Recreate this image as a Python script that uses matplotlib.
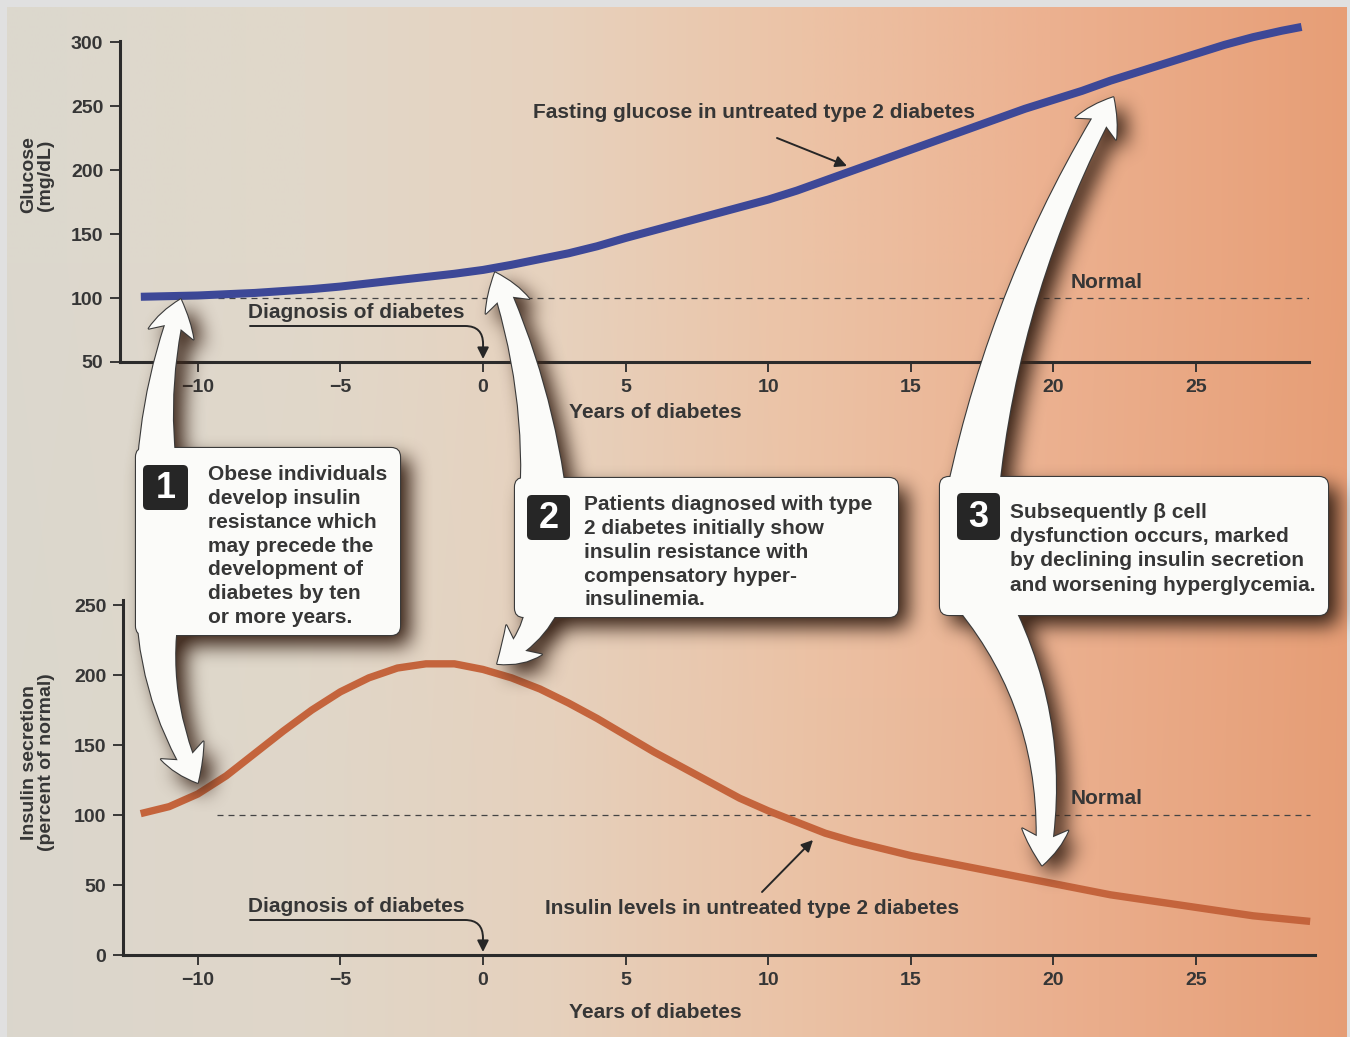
import numpy as np
import matplotlib
matplotlib.use("Agg")
import matplotlib.pyplot as plt
from matplotlib.figure import Figure
from matplotlib.backends.backend_agg import FigureCanvasAgg
from matplotlib.patches import FancyBboxPatch, FancyArrowPatch, ArrowStyle

# ---------------- data ----------------
glucose_years = [-12, -11, -10, -9, -8, -7, -6, -5, -4, -3, -2, -1, 0, 1, 2, 3, 4, 5, 6, 7,
                 8, 9, 10, 11, 12, 13, 14, 15, 16, 17, 18, 19, 20, 21, 22, 23, 24, 25,
                 26, 27, 28, 28.7]
glucose_mgdl = [101, 101.5, 102, 103, 104, 105.5, 107, 109, 111.5, 114, 116.5, 119, 122,
                126, 130.5, 135, 140.5, 147, 153, 159, 165, 171, 177, 184, 192, 200,
                208, 216, 224, 232, 240, 248, 255, 262, 270, 277, 284, 291, 298, 304,
                309, 312]

insulin_years = [-12, -11, -10, -9, -8, -7, -6, -5, -4, -3, -2, -1, 0, 1, 2, 3, 4, 5, 6,
                 7, 8, 9, 10, 11, 12, 13, 14, 15, 16, 17, 18, 19, 20, 21, 22, 23, 24,
                 25, 26, 27, 28, 29]
insulin_pct = [101, 106, 115, 128, 144, 160, 175, 188, 198, 205, 208, 208, 204, 198, 190,
               180, 169, 157, 145, 134, 123, 112, 103, 95, 87, 81, 76, 71, 67, 63, 59,
               55, 51, 47, 43, 40, 37, 34, 31, 28, 26, 24]

normal_level = 100
x_ticks = [-10, -5, 0, 5, 10, 15, 20, 25]
glucose_ticks = [50, 100, 150, 200, 250, 300]
insulin_ticks = [0, 50, 100, 150, 200, 250]

step1_text = ["Obese individuals", "develop insulin", "resistance which", "may precede the",
              "development of", "diabetes by ten", "or more years."]
step2_text = ["Patients diagnosed with type", "2 diabetes initially show",
              "insulin resistance with", "compensatory hyper-", "insulinemia."]
step3_text = ["Subsequently \u03b2 cell", "dysfunction occurs, marked",
              "by declining insulin secretion", "and worsening hyperglycemia."]

# ---------------- style ----------------
W, H = 1350, 1037
TXT = '#363636'
AXC = '#2b2b2b'
plt.rcParams['font.family'] = ['Liberation Sans', 'DejaVu Sans']
plt.rcParams['font.weight'] = 'bold'

fig = plt.figure(figsize=(W / 100, H / 100), dpi=100, facecolor='#e0e0e0')

# warm gradient panel behind the charts
bg = fig.add_axes([0, 0, 1, 1], zorder=0)
stop_x = [0, 300, 550, 800, 1050, 1350]
stop_c = np.array([(220, 216, 206), (225, 216, 202), (231, 210, 190),
                   (236, 195, 166), (236, 177, 144), (231, 158, 118)]) / 255.0
xs = np.arange(W)
row = np.stack([np.interp(xs, stop_x, stop_c[:, i]) for i in range(3)], axis=-1)
grad = np.stack([row, row * 0.995], axis=0)
bg.imshow(grad, extent=(7, 1347, H, 7), aspect='auto', interpolation='bilinear')
bg.set_xlim(0, W)
bg.set_ylim(H, 0)
bg.axis('off')


def px_rect(l, t, r, b):
    return [l / W, 1 - b / H, (r - l) / W, (b - t) / H]


ax_g = fig.add_axes(px_rect(120, 41, 1309, 362), zorder=2)
ax_i = fig.add_axes(px_rect(123, 600, 1315, 955), zorder=2)


def style_axes(ax, xlim, ylim, yticks):
    ax.set_facecolor('none')
    ax.set_xlim(*xlim)
    ax.set_ylim(*ylim)
    for s in ['top', 'right']:
        ax.spines[s].set_visible(False)
    for s in ['left', 'bottom']:
        ax.spines[s].set_linewidth(2.2)
        ax.spines[s].set_color(AXC)
    ax.set_xticks(x_ticks)
    ax.set_xticklabels([str(t).replace('-', '\u2212') for t in x_ticks])
    ax.set_yticks(yticks)
    ax.tick_params(direction='out', length=7, width=1.3, color=AXC,
                   labelsize=14, labelcolor=TXT, pad=5)


style_axes(ax_g, (-12.73, 28.96), (50, 301), glucose_ticks)
style_axes(ax_i, (-12.62, 29.17), (0, 253.6), insulin_ticks)

ax_g.plot([-9.3, 28.96], [normal_level, normal_level], color='#444444', lw=0.9,
          dashes=(4.8, 4.0), zorder=2)
ax_i.plot([-9.33, 28.99], [normal_level, normal_level], color='#444444', lw=0.9,
          dashes=(4.8, 4.0), zorder=2)
ax_g.plot(glucose_years, glucose_mgdl, color='#3d4897', lw=5.8, clip_on=False,
          solid_capstyle='butt', solid_joinstyle='round', zorder=3)
ax_i.plot(insulin_years, insulin_pct, color='#c4643c', lw=5.3, clip_on=False,
          solid_capstyle='butt', solid_joinstyle='round', zorder=3)

# ---------------- overlay in pixel coordinates ----------------
ov = fig.add_axes([0, 0, 1, 1], zorder=5)
ov.set_facecolor('none')
ov.set_xlim(0, W)
ov.set_ylim(H, 0)
ov.axis('off')


def to_px(ax, x, y):
    d = ax.transData.transform((x, y))
    return tuple(ov.transData.inverted().transform(d))


callouts = [
    dict(box=(136, 448, 400, 635), num='1', num_box=(143, 465, 188, 510),
         text=step1_text, tx=208, ty=473, step=23.7,
         tendrils=[((164, 540), to_px(ax_g, -10.6, 99), -0.12),
                   ((164, 560), to_px(ax_i, -10.0, 123), 0.18)]),
    dict(box=(515, 478, 898, 617), num='2', num_box=(527, 495, 570, 540),
         text=step2_text, tx=584, ty=503, step=23.7,
         tendrils=[((544, 540), to_px(ax_g, 0.42, 120), 0.1),
                   ((546, 560), to_px(ax_i, 0.5, 208), -0.3)]),
    dict(box=(940, 477, 1328, 615), num='3', num_box=(957, 493, 1000, 540),
         text=step3_text, tx=1010, ty=510, step=24.5,
         tendrils=[((969, 520), to_px(ax_g, 22.1, 257), -0.1),
                   ((969, 580), to_px(ax_i, 19.6, 64), -0.2)]),
]

tendril_style = ArrowStyle.Fancy(head_length=36, head_width=46, tail_width=54)


def add_shape(ax, spec, face, edge, lw, z):
    for start, end, rad in spec['tendrils']:
        ax.add_patch(FancyArrowPatch(start, end, arrowstyle=tendril_style,
                                     connectionstyle=f"arc3,rad={rad}",
                                     mutation_scale=0.72, shrinkA=0, shrinkB=0,
                                     facecolor=face, edgecolor=edge, linewidth=lw,
                                     zorder=z))
    x0, y0, x1, y1 = spec['box']
    ax.add_patch(FancyBboxPatch((x0, y0), x1 - x0, y1 - y0,
                                boxstyle="round,pad=0,rounding_size=9",
                                facecolor=face, edgecolor=edge, linewidth=lw, zorder=z))


# soft drop shadow rendered off-screen and blurred
sfig = Figure(figsize=(W / 100, H / 100), dpi=100, facecolor='white')
scanvas = FigureCanvasAgg(sfig)
sax = sfig.add_axes([0, 0, 1, 1])
sax.set_xlim(0, W)
sax.set_ylim(H, 0)
sax.axis('off')
for spec in callouts:
    add_shape(sax, spec, 'black', 'black', 0.0, 1)
scanvas.draw()
mask = 1.0 - np.asarray(scanvas.buffer_rgba())[:, :, 0].astype(float) / 255.0


def box_blur(a, r):
    k = 2 * r + 1
    p = np.pad(a, ((r + 1, r), (0, 0)), mode='edge')
    c = np.cumsum(p, axis=0)
    a = (c[k:] - c[:-k]) / k
    p = np.pad(a, ((0, 0), (r + 1, r)), mode='edge')
    c = np.cumsum(p, axis=1)
    return (c[:, k:] - c[:, :-k]) / k


blur = mask
for _ in range(3):
    blur = box_blur(blur, 9)
dx, dy = 10, 10
shadow = np.zeros_like(blur)
shadow[dy:, dx:] = blur[:-dy, :-dx]
rgba = np.zeros((H, W, 4))
rgba[..., 0] = 58 / 255
rgba[..., 1] = 36 / 255
rgba[..., 2] = 24 / 255
rgba[..., 3] = np.clip(shadow * 1.05, 0, 0.92)
ov.imshow(rgba, extent=(0, W, H, 0), aspect='auto', zorder=1, interpolation='bilinear')
ov.set_xlim(0, W)
ov.set_ylim(H, 0)

# white callouts: outlined pass, then a fill pass that hides inner seams
for spec in callouts:
    add_shape(ov, spec, '#fbfbf9', '#3a3a3a', 1.6, 2)
for spec in callouts:
    add_shape(ov, spec, '#fbfbf9', 'none', 0.0, 3)

for spec in callouts:
    nx0, ny0, nx1, ny1 = spec['num_box']
    ov.add_patch(FancyBboxPatch((nx0, ny0), nx1 - nx0, ny1 - ny0,
                                boxstyle="round,pad=0,rounding_size=5",
                                facecolor='#262626', edgecolor='none', zorder=4))
    ov.text((nx0 + nx1) / 2, (ny0 + ny1) / 2 + 1, spec['num'], color='white',
            fontsize=26, ha='center', va='center', zorder=5)
    for i, line in enumerate(spec['text']):
        ov.text(spec['tx'], spec['ty'] + i * spec['step'] + 7.5, line, color=TXT,
                fontsize=15, ha='left', va='baseline', zorder=5)

# ---------------- labels and pointer arrows ----------------
lab = dict(color=TXT, fontsize=15, zorder=6)
ov.text(655, 412, "Years of diabetes", ha='center', va='center', **lab)
ov.text(655, 1013, "Years of diabetes", ha='center', va='center', **lab)
ov.text(1107, 283, "Normal", ha='center', va='center', **lab)
ov.text(1107, 799, "Normal", ha='center', va='center', **lab)
ov.text(533, 113, "Fasting glucose in untreated type 2 diabetes", ha='left', va='center', **lab)
ov.text(545, 909, "Insulin levels in untreated type 2 diabetes", ha='left', va='center', **lab)
ov.text(248, 313, "Diagnosis of diabetes", ha='left', va='center', **lab)
ov.text(248, 907, "Diagnosis of diabetes", ha='left', va='center', **lab)

ov.text(37, 175, "Glucose\n(mg/dL)", rotation=90, ha='center', va='center',
        multialignment='center', linespacing=1.0, color=TXT, fontsize=14, zorder=6)
ov.text(38, 762, "Insulin secretion\n(percent of normal)", rotation=90, ha='center',
        va='center', multialignment='center', linespacing=1.0, color=TXT, fontsize=14, zorder=6)

ptr = dict(arrowstyle='-|>', color='#262626', lw=1.4, mutation_scale=17,
           shrinkA=0, shrinkB=0)
tip_g = to_px(ax_g, 0, 50)
tip_i = to_px(ax_i, 0, 0)
ov.annotate('', xy=(tip_g[0], tip_g[1] - 3), xytext=(250, 326),
            arrowprops=dict(connectionstyle='angle,angleA=0,angleB=90,rad=18', **ptr), zorder=6)
ov.annotate('', xy=(tip_i[0], tip_i[1] - 3), xytext=(250, 920),
            arrowprops=dict(connectionstyle='angle,angleA=0,angleB=90,rad=18', **ptr), zorder=6)
ov.annotate('', xy=(847, 166), xytext=(777, 138), arrowprops=ptr, zorder=6)
ov.annotate('', xy=(813, 840), xytext=(762, 892), arrowprops=ptr, zorder=6)

fig.savefig('out.png', dpi=100, facecolor=fig.get_facecolor())
